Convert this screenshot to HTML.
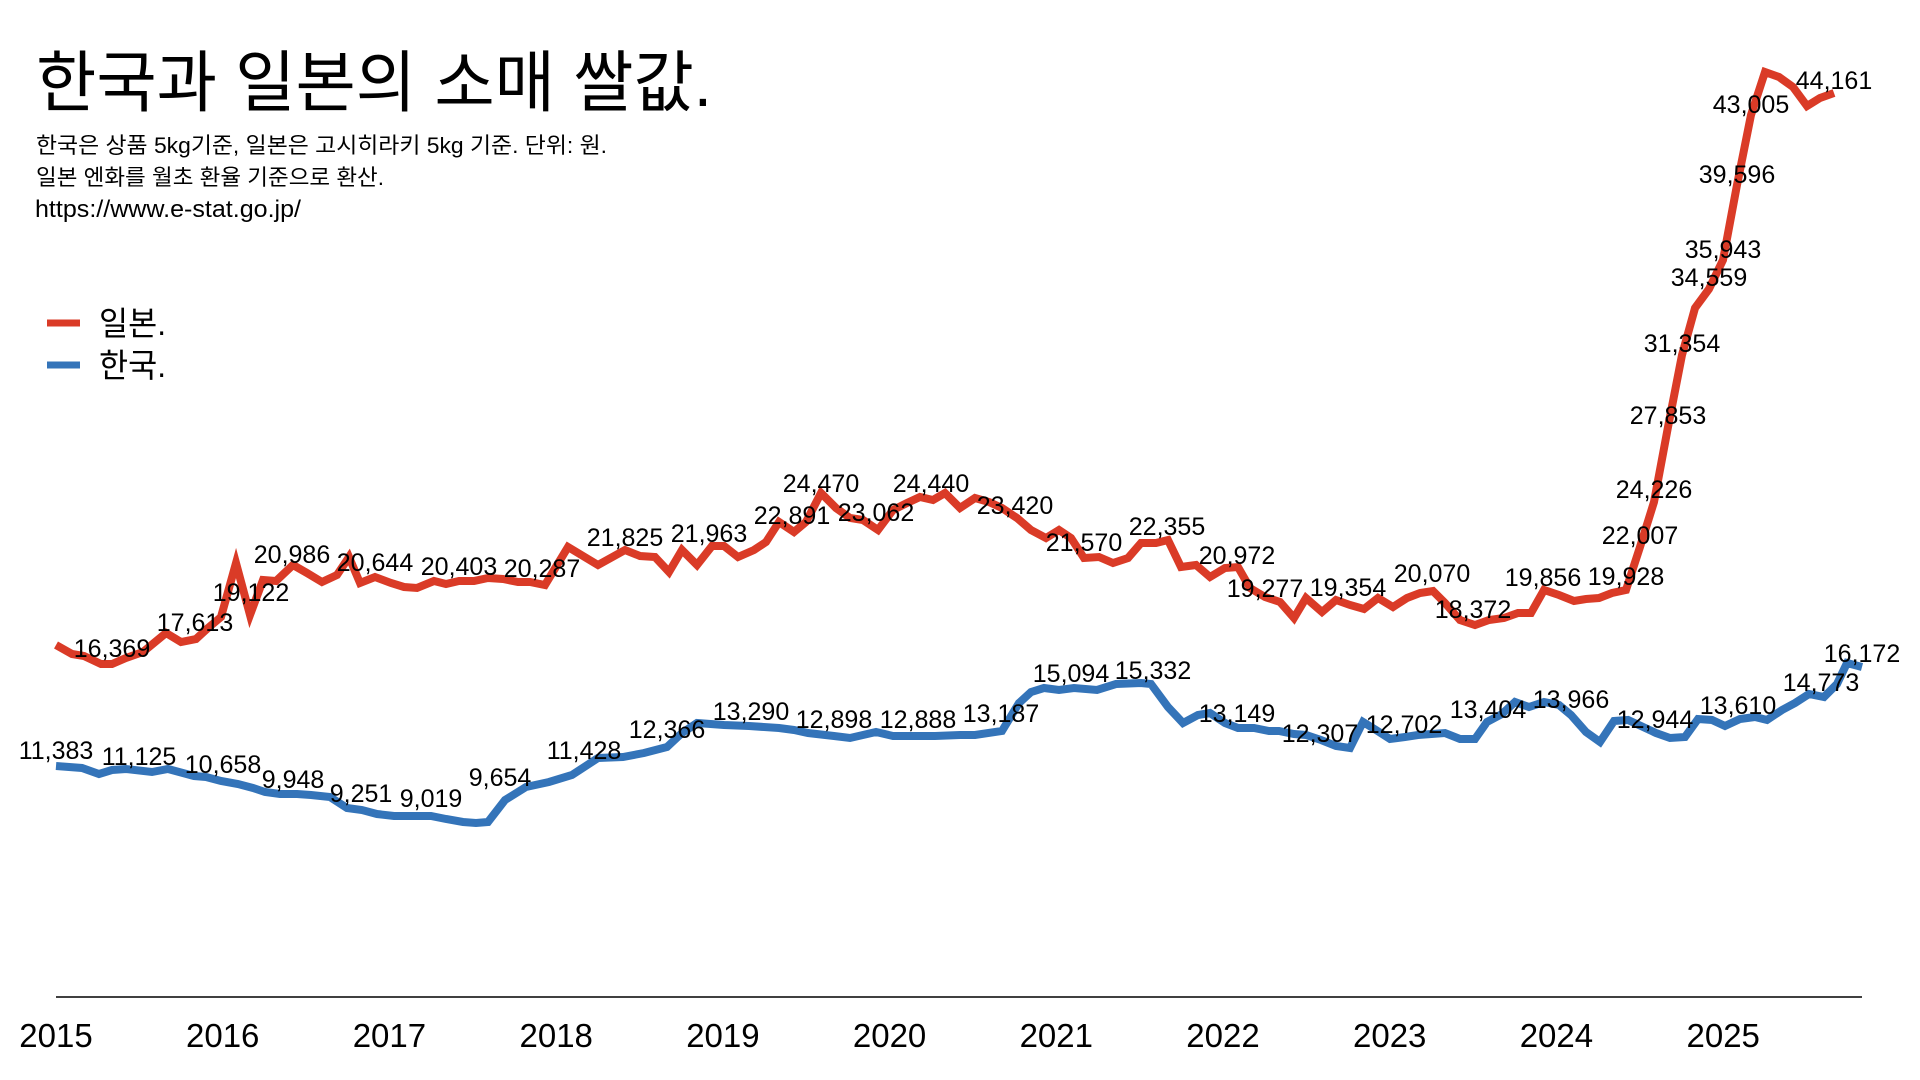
<!DOCTYPE html>
<html>
<head>
<meta charset="utf-8">
<style>
  html, body { margin: 0; padding: 0; background: #ffffff; }
  svg { display: block; }
  text { font-family: "Liberation Sans", "Noto Sans CJK KR", sans-serif; fill: #000; }
</style>
</head>
<body>
<svg width="1920" height="1080" viewBox="0 0 1920 1080" xmlns="http://www.w3.org/2000/svg">
  <rect x="0" y="0" width="1920" height="1080" fill="#ffffff"/>

  <!-- Title -->
  <text x="36" y="106" font-size="67" textLength="676" lengthAdjust="spacingAndGlyphs">한국과 일본의 소매 쌀값.</text>
  <text x="36" y="153" font-size="22" textLength="571" lengthAdjust="spacingAndGlyphs">한국은 상품 5kg기준, 일본은 고시히라키 5kg 기준. 단위: 원.</text>
  <text x="36" y="185" font-size="22" textLength="348" lengthAdjust="spacingAndGlyphs">일본 엔화를 월초 환율 기준으로 환산.</text>
  <text x="35" y="217" font-size="24" textLength="266" lengthAdjust="spacingAndGlyphs">https://www.e-stat.go.jp/</text>

  <!-- Legend -->
  <line x1="47" y1="323" x2="80" y2="323" stroke="#da3b27" stroke-width="7"/>
  <line x1="47" y1="365" x2="80" y2="365" stroke="#3474b9" stroke-width="7"/>
  <text x="99" y="335" font-size="33" textLength="67" lengthAdjust="spacingAndGlyphs">일본.</text>
  <text x="99" y="377" font-size="33" textLength="67" lengthAdjust="spacingAndGlyphs">한국.</text>

  <!-- Axis -->
  <line x1="56" y1="997" x2="1862" y2="997" stroke="#000" stroke-width="1.6"/>
  <g font-size="33" text-anchor="middle">
    <text x="56" y="1047">2015</text>
    <text x="222.7" y="1047">2016</text>
    <text x="389.4" y="1047">2017</text>
    <text x="556.2" y="1047">2018</text>
    <text x="722.9" y="1047">2019</text>
    <text x="889.6" y="1047">2020</text>
    <text x="1056.3" y="1047">2021</text>
    <text x="1223" y="1047">2022</text>
    <text x="1389.7" y="1047">2023</text>
    <text x="1556.4" y="1047">2024</text>
    <text x="1723.2" y="1047">2025</text>
  </g>

  <!-- Japan series -->
  <polyline fill="none" stroke="#da3b27" stroke-width="8" stroke-linejoin="miter" stroke-miterlimit="4" points="
    56,645 72,654 84,656 101,664 112,664 126,658 143,652 166,633 181,642 196,639 208,628 221,617 236,563 250,615 263,580 276,581 293,565 307,573 322,582 337,575 349,557 360,583 375,577 391,583 404,587 417,588 434,581 446,584 459,581 474,581 488,578 503,579 518,582 530,582 545,585 568,547 598,565 625,550 640,556
    655,557 669,572 682,550 697,565 712,546 724,546 738,557 754,550 766,542 779,522 794,532 806,522 821,493 836,508 850,518 863,520 878,530 893,510 907,503 920,497 933,500 945,493 960,508 975,498 989,502 1002,508 1017,518 1031,530 1046,538 1059,530 1071,538 1084,558 1099,557 1113,563 1128,558 1141,543 1156,543 1168,540 1181,567 1196,565 1210,577 1225,568 1238,567 1250,588 1265,597 1280,602 1294,618
    1306,598 1322,612 1336,600 1350,605 1364,609 1378,598 1393,607 1407,598 1420,593 1433,591 1445,603 1460,620 1475,625 1489,620 1504,618 1518,613 1531,613 1544,590 1559,595 1574,601 1586,599 1599,598 1612,593 1626,590
    1640,547 1654,502 1668,427 1682,355 1695,308 1709,289 1723,260 1737,185 1751,115 1765,72 1779,77 1793,87 1807,106 1820,98 1834,93"/>

  <!-- Korea series -->
  <polyline fill="none" stroke="#3474b9" stroke-width="8" stroke-linejoin="miter" stroke-miterlimit="4" points="
    56,766 82,768 99,774 112,770 126,769 152,772 168,769 194,776 206,777 221,781 238,784 253,788 265,792 280,794 297,794 311,795 330,797 347,808 362,810 377,814 394,816 417,816 431,816 446,819 463,822 476,823 488,822 505,800 526,787 549,782 572,775 598,758 623,757 644,753
    667,747 682,733 697,723 724,725 749,726 779,728 794,730 808,733 834,736 850,738 876,732 893,736 918,736 935,736 960,735 975,735 1002,731 1019,703 1031,692 1044,688 1059,690 1074,688 1097,690 1116,684 1141,683 1151,684 1168,707 1183,723 1198,715 1210,713 1225,723 1238,728 1254,728 1269,731 1279,731 1294,734
    1306,735 1321,740 1336,746 1350,748 1363,722 1376,730 1390,739 1405,737 1418,735 1445,733 1460,739 1475,739 1487,722 1502,714 1515,702 1529,707 1544,702 1559,705 1571,715 1586,732 1600,742 1614,721 1628,720 1641,726 1656,733 1670,738 1685,737 1698,719 1712,720 1725,726 1740,719 1755,717 1767,720 1782,710 1795,703 1809,694 1824,697 1837,684 1847,663 1862,667"/>

  <!-- Japan labels -->
  <g font-size="25" text-anchor="middle">
    <text x="112" y="657">16,369</text>
    <text x="195" y="631">17,613</text>
    <text x="251" y="601">19,122</text>
    <text x="292" y="563">20,986</text>
    <text x="375" y="571">20,644</text>
    <text x="459" y="575">20,403</text>
    <text x="542" y="577">20,287</text>
    <text x="625" y="546">21,825</text>
    <text x="709" y="542">21,963</text>
    <text x="792" y="524">22,891</text>
    <text x="821" y="492">24,470</text>
    <text x="876" y="521">23,062</text>
    <text x="931" y="492">24,440</text>
    <text x="1015" y="514">23,420</text>
    <text x="1084" y="551">21,570</text>
    <text x="1167" y="535">22,355</text>
    <text x="1237" y="564">20,972</text>
    <text x="1265" y="597">19,277</text>
    <text x="1348" y="596">19,354</text>
    <text x="1432" y="582">20,070</text>
    <text x="1473" y="618">18,372</text>
    <text x="1543" y="586">19,856</text>
    <text x="1626" y="585">19,928</text>
    <text x="1640" y="544">22,007</text>
    <text x="1654" y="498">24,226</text>
    <text x="1668" y="424">27,853</text>
    <text x="1682" y="352">31,354</text>
    <text x="1709" y="286">34,559</text>
    <text x="1723" y="258">35,943</text>
    <text x="1737" y="183">39,596</text>
    <text x="1751" y="113">43,005</text>
    <text x="1834" y="89">44,161</text>
  </g>

  <!-- Korea labels -->
  <g font-size="25" text-anchor="middle">
    <text x="56" y="759">11,383</text>
    <text x="139" y="765">11,125</text>
    <text x="223" y="773">10,658</text>
    <text x="293" y="788">9,948</text>
    <text x="361" y="802">9,251</text>
    <text x="431" y="807">9,019</text>
    <text x="500" y="786">9,654</text>
    <text x="584" y="759">11,428</text>
    <text x="667" y="738">12,366</text>
    <text x="751" y="720">13,290</text>
    <text x="834" y="728">12,898</text>
    <text x="918" y="728">12,888</text>
    <text x="1001" y="722">13,187</text>
    <text x="1071" y="682">15,094</text>
    <text x="1153" y="679">15,332</text>
    <text x="1237" y="722">13,149</text>
    <text x="1320" y="742">12,307</text>
    <text x="1404" y="733">12,702</text>
    <text x="1488" y="718">13,404</text>
    <text x="1571" y="708">13,966</text>
    <text x="1655" y="728">12,944</text>
    <text x="1738" y="714">13,610</text>
    <text x="1821" y="691">14,773</text>
    <text x="1862" y="662">16,172</text>
  </g>
</svg>
</body>
</html>
